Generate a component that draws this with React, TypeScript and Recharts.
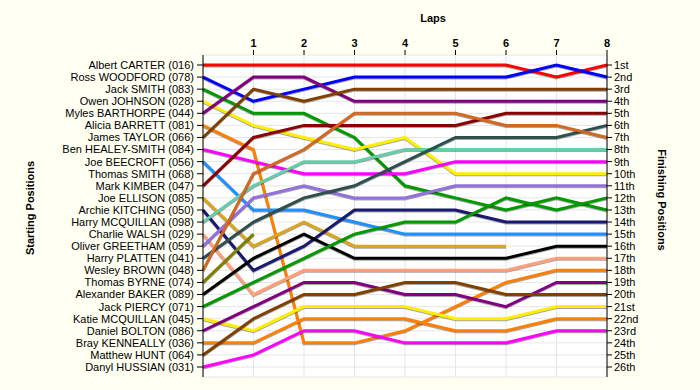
import { LineChart, Line, XAxis, YAxis, CartesianGrid } from 'recharts'

// laps 0 (grid) .. 8
const laps = [0, 1, 2, 3, 4, 5, 6, 7, 8]
const lapTicks = [1, 2, 3, 4, 5, 6, 7, 8]

const startNames = [
  'Albert CARTER (016)', 'Ross WOODFORD (078)', 'Jack SMITH (083)', 'Owen JOHNSON (028)',
  'Myles BARTHORPE (044)', 'Alicia BARRETT (081)', 'James TAYLOR (066)', 'Ben HEALEY-SMITH (084)',
  'Joe BEECROFT (056)', 'Thomas SMITH (068)', 'Mark KIMBER (047)', 'Joe ELLISON (085)',
  'Archie KITCHING (050)', 'Harry MCQUILLAN (098)', 'Charlie WALSH (029)', 'Oliver GREETHAM (059)',
  'Harry PLATTEN (041)', 'Wesley BROWN (048)', 'Thomas BYRNE (074)', 'Alexander BAKER (089)',
  'Jack PIERCY (071)', 'Katie MCQUILLAN (045)', 'Daniel BOLTON (086)', 'Bray KENNEALLY (036)',
  'Matthew HUNT (064)', 'Danyl HUSSIAN (031)',
]

const finishLabels = [
  '1st', '2nd', '3rd', '4th', '5th', '6th', '7th', '8th', '9th', '10th', '11th', '12th', '13th',
  '14th', '15th', '16th', '17th', '18th', '19th', '20th', '21st', '22nd', '23rd', '24th', '25th', '26th',
]

// position at each lap (null = not running)
const carter = [1, 1, 1, 1, 1, 1, 1, 2, 1]
const woodford = [2, 4, 3, 2, 2, 2, 2, 1, 2]
const jackSmith = [3, 5, 5, 7, 11, 12, 13, 12, 13]
const johnson = [4, 6, 7, 8, 7, 10, 10, 10, 10]
const barthorpe = [5, 2, 2, 4, 4, 4, 4, 4, 4]
const barrett = [6, 8, 24, 24, 23, 21, 19, 18, 18]
const taylor = [7, 3, 4, 3, 3, 3, 3, 3, 3]
const healeySmith = [8, 9, 10, 10, 10, 9, 9, 9, 9]
const beecroft = [9, 13, 13, 14, 15, 15, 15, 15, 15]
const kimber = [11, 7, 6, 6, 6, 6, 5, 5, 5]
const ellison = [12, 16, 14, 16, 16, 16, 16, null, null]
const kitching = [13, 18, 16, 13, 13, 13, 14, 14, 14]
const harryMcquillan = [14, 11, 9, 9, 8, 8, 8, 8, 8]
const walsh = [15, 20, 18, 18, 18, 18, 18, 17, 17]
const greetham = [16, 12, 11, 12, 12, 11, 11, 11, 11]
const platten = [17, 14, 12, 11, 9, 7, 7, 7, 6]
const wesleyBrown = [18, 10, 8, 5, 5, 5, 6, 6, 7]
const byrne = [19, 15, null, null, null, null, null, null, null]
const baker = [20, 17, 15, 17, 17, 17, 17, 16, 16]
const piercy = [21, 19, 17, 15, 14, 14, 12, 13, 12]
const katieMcquillan = [22, 23, 21, 21, 21, 22, 22, 21, 21]
const bolton = [23, 21, 19, 19, 20, 20, 21, 19, 19]
const kenneally = [24, 24, 22, 22, 22, 23, 23, 22, 22]
const hunt = [25, 22, 20, 20, 19, 19, 20, 20, 20]
const hussian = [26, 25, 23, 23, 24, 24, 24, 23, 23]

const series = [
  { name: startNames[0], color: '#ff0000', pos: carter },
  { name: startNames[1], color: '#0000ff', pos: woodford },
  { name: startNames[2], color: '#009900', pos: jackSmith },
  { name: startNames[3], color: '#ffee00', pos: johnson },
  { name: startNames[4], color: '#800080', pos: barthorpe },
  { name: startNames[5], color: '#ff8000', pos: barrett },
  { name: startNames[6], color: '#804000', pos: taylor },
  { name: startNames[7], color: '#ff00ff', pos: healeySmith },
  { name: startNames[8], color: '#1e90ff', pos: beecroft },
  { name: startNames[10], color: '#8b0000', pos: kimber },
  { name: startNames[11], color: '#daa520', pos: ellison },
  { name: startNames[12], color: '#191970', pos: kitching },
  { name: startNames[13], color: '#66cdaa', pos: harryMcquillan },
  { name: startNames[14], color: '#ffa07a', pos: walsh },
  { name: startNames[15], color: '#9370db', pos: greetham },
  { name: startNames[16], color: '#2f4f4f', pos: platten },
  { name: startNames[17], color: '#d2691e', pos: wesleyBrown },
  { name: startNames[18], color: '#808000', pos: byrne },
  { name: startNames[19], color: '#000000', pos: baker },
  { name: startNames[20], color: '#009900', pos: piercy },
  { name: startNames[21], color: '#ffee00', pos: katieMcquillan },
  { name: startNames[22], color: '#800080', pos: bolton },
  { name: startNames[23], color: '#ff8000', pos: kenneally },
  { name: startNames[24], color: '#804000', pos: hunt },
  { name: startNames[25], color: '#ff00ff', pos: hussian },
]

const posTicks = startNames.map((_, i) => i + 1)

const chartData = laps.map((lap, i) => {
  const row: any = { lap }
  series.forEach((s, k) => {
    row['d' + k] = s.pos[i]
  })
  return row
})

const font = '"Liberation Sans", Arial, sans-serif'

export default function App() {
  return (
    <div style={{ position: 'absolute', left: 0, top: 0, width: 700, height: 390, background: '#fffff2', fontFamily: font }}>
      <style>{`.recharts-line-curve { filter: drop-shadow(0px 1.5px 0px rgba(0,0,0,0.35)); }`}</style>
      <LineChart width={700} height={390} data={chartData} margin={{ top: 0, right: 0, bottom: 13, left: 0 }}>
        <CartesianGrid yAxisId="left" stroke="#e6e6e6" fill="#ffffff" />
        <XAxis
          dataKey="lap"
          type="number"
          orientation="top"
          domain={[0, 8]}
          ticks={lapTicks}
          interval={0}
          height={55}
          axisLine={false}
          tickSize={5}
          tickMargin={3}
          tickLine={{ stroke: '#000' }}
          tick={{ fontSize: 11, fill: '#000', fontWeight: 'bold', fontFamily: font }}
        />
        <YAxis
          yAxisId="left"
          type="number"
          domain={[1, 26]}
          reversed
          ticks={posTicks}
          interval={0}
          width={203}
          padding={{ top: 10, bottom: 10 }}
          tickFormatter={(v: number) => startNames[v - 1]}
          axisLine={{ stroke: '#000' }}
          tickLine={{ stroke: '#000' }}
          tickSize={6}
          tickMargin={3}
          tick={{ fontSize: 11, fill: '#000', fontFamily: font }}
        />
        <YAxis
          yAxisId="right"
          orientation="right"
          type="number"
          domain={[1, 26]}
          reversed
          ticks={posTicks}
          interval={0}
          width={93}
          padding={{ top: 10, bottom: 10 }}
          tickFormatter={(v: number) => finishLabels[v - 1]}
          axisLine={{ stroke: '#000' }}
          tickLine={{ stroke: '#000' }}
          tickSize={5}
          tickMargin={2}
          tick={{ fontSize: 11, fill: '#000', fontFamily: font, textAnchor: 'start' }}
        />
        {/* invisible series so the right axis gets drawn */}
        <Line
          yAxisId="right"
          type="linear"
          dataKey="d0"
          stroke="transparent"
          strokeWidth={0}
          dot={false}
          legendType="none"
          isAnimationActive={false}
        />
        {series.map((s, k) => (
          <Line
            key={s.name}
            yAxisId="left"
            type="linear"
            dataKey={'d' + k}
            name={s.name}
            stroke={s.color}
            strokeWidth={3}
            dot={false}
            isAnimationActive={false}
          />
        ))}
      </LineChart>
      <svg width={700} height={390} style={{ position: 'absolute', left: 0, top: 0, pointerEvents: 'none' }}>
        <text x={433} y={22} textAnchor="middle" fontSize={11} fontWeight="bold" fontFamily={font}>Laps</text>
        <text transform="translate(34,208) rotate(-90)" textAnchor="middle" fontSize={11} fontWeight="bold" fontFamily={font}>Starting Positions</text>
        <text transform="translate(658,200) rotate(90)" textAnchor="middle" fontSize={11} fontWeight="bold" fontFamily={font}>Finishing Positions</text>
      </svg>
    </div>
  )
}
